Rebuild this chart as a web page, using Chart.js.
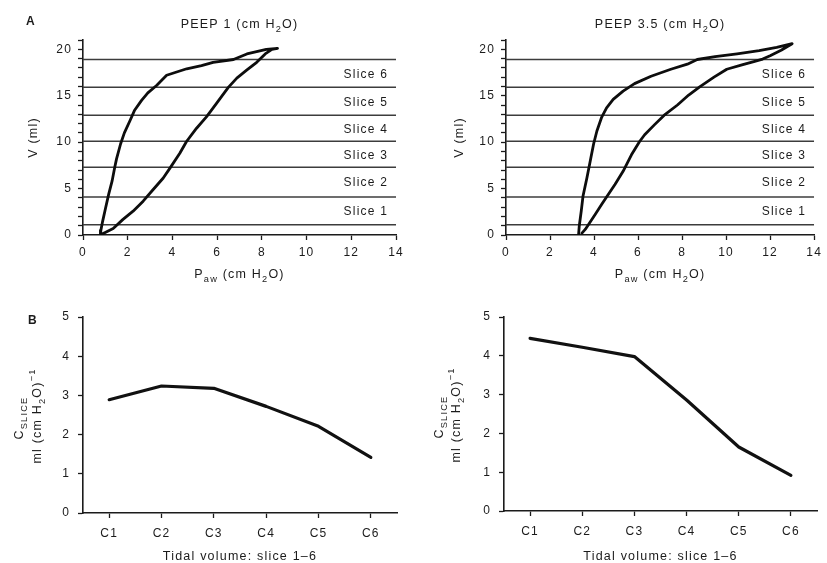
<!DOCTYPE html>
<html>
<head>
<meta charset="utf-8">
<script src="https://cdn.jsdelivr.net/npm/chart.js@4.4.1/dist/chart.umd.min.js"></script>
<style>
  html, body { margin: 0; padding: 0; background: #fff; }
  #wrap { position: relative; width: 827px; height: 563px; overflow: hidden; background: #fff; }
  .panel { position: absolute; }
  .panel canvas { display: block; }
</style>
</head>
<body>
<div id="wrap">
  <div class="panel" style="left:0;top:0;width:413px;height:290px"><canvas id="loopLow" width="413" height="290"></canvas></div>
  <div class="panel" style="left:413px;top:0;width:414px;height:290px"><canvas id="loopHigh" width="414" height="290"></canvas></div>
  <div class="panel" style="left:0;top:290px;width:413px;height:273px"><canvas id="compLow" width="413" height="273"></canvas></div>
  <div class="panel" style="left:413px;top:290px;width:414px;height:273px"><canvas id="compHigh" width="414" height="273"></canvas></div>
</div>
<script>
// ---- Pressure-volume loops: [Paw (cm H2O), V (ml)] ----
const inflationPeep1 = [
  [0.85, 0.1], [0.97, 0.25], [1.35, 0.7], [1.79, 1.68], [2.24, 2.57], [2.69, 3.64],
  [3.14, 4.9], [3.59, 6.14], [3.89, 7.2], [4.33, 8.8], [4.63, 10.07], [5.08, 11.5],
  [5.53, 12.75], [5.98, 14.2], [6.5, 15.9], [6.88, 16.9], [7.32, 17.75], [7.77, 18.6],
  [8.15, 19.5], [8.45, 20.0], [8.7, 20.1]
];
const deflationPeep1 = [
  [8.7, 20.1], [8.2, 20.0], [7.33, 19.5], [6.73, 18.9], [5.82, 18.6], [5.3, 18.25],
  [4.64, 17.9], [3.74, 17.2], [3.29, 16.1], [2.9, 15.3], [2.62, 14.5], [2.3, 13.4],
  [2.1, 12.3], [1.85, 11.0], [1.68, 9.8], [1.5, 8.2], [1.42, 7.3], [1.3, 5.8],
  [1.15, 4.4], [1.0, 2.8], [0.88, 1.5], [0.8, 0.5], [0.78, 0.1]
];
const inflationPeep35 = [
  [3.45, 0.2], [3.6, 0.6], [3.75, 1.14], [4.05, 2.2], [4.35, 3.3], [4.6, 4.2],
  [4.95, 5.43], [5.32, 6.86], [5.7, 8.64], [6.07, 10.07], [6.3, 10.8], [6.74, 11.86],
  [7.19, 12.9], [7.79, 14.0], [8.3, 15.07], [8.8, 15.96], [9.45, 17.0], [10.03, 17.85],
  [10.76, 18.35], [11.3, 18.7], [11.66, 18.95], [12.0, 19.3], [12.5, 19.9], [13.0, 20.6]
];
const deflationPeep35 = [
  [13.0, 20.6], [12.3, 20.2], [11.5, 19.85], [10.5, 19.5], [9.5, 19.2], [8.69, 18.9],
  [8.24, 18.4], [7.49, 17.85], [6.59, 17.1], [5.84, 16.3], [5.32, 15.5], [4.87, 14.6],
  [4.57, 13.7], [4.35, 12.7], [4.13, 11.2], [3.98, 9.8], [3.83, 8.0], [3.68, 6.2],
  [3.5, 4.2], [3.42, 2.6], [3.33, 1.0], [3.3, 0.1]
];

// Volume boundaries of the six lung slices (ml) and their names
const sliceBounds = [1.1, 4.1, 7.3, 10.1, 12.9, 15.9, 18.9];
const sliceNames = ['Slice 1', 'Slice 2', 'Slice 3', 'Slice 4', 'Slice 5', 'Slice 6'];

// ---- Slice compliance (ml (cm H2O)^-1) ----
const sliceCategories = ['C1', 'C2', 'C3', 'C4', 'C5', 'C6'];
const complianceLow = [2.89, 3.24, 3.18, 2.72, 2.21, 1.42];
const complianceHigh = [4.45, 4.22, 3.98, 2.86, 1.65, 0.92];

// Axis ranges
const pawRange = [0, 14];
const volRange = [0, 21];
const compRange = [0, 5];

const FONT = '"Liberation Sans", Arial, Helvetica, sans-serif';
const INK = '#1b1b1b';
const SPACING = '1.2px';

Chart.defaults.font.family = FONT;
Chart.defaults.font.size = 12;
Chart.defaults.color = INK;

// wider letter spacing for every piece of text on a canvas
const spacingPlugin = {
  id: 'spacing',
  beforeUpdate(chart) { chart.ctx.letterSpacing = SPACING; },
  beforeDraw(chart) { chart.ctx.letterSpacing = SPACING; }
};
Chart.register(spacingPlugin);

// text with sub/superscript runs, centred on (x, y)
function drawRich(ctx, segs, x, y, opt = {}) {
  const size = opt.size || 12.5;
  ctx.save();
  ctx.translate(x, y);
  if (opt.rotate) ctx.rotate(opt.rotate);
  ctx.fillStyle = INK;
  ctx.textBaseline = 'alphabetic';
  ctx.textAlign = 'left';
  ctx.letterSpacing = SPACING;
  const parts = segs.map(s => {
    const sz = s.s ? size * 0.74 : size;
    const font = (opt.bold ? 'bold ' : '') + sz + 'px ' + FONT;
    ctx.font = font;
    return {
      t: s.t, font,
      w: ctx.measureText(s.t).width,
      dy: s.s === 'sub' ? size * 0.32 : (s.s === 'sup' ? -size * 0.42 : 0)
    };
  });
  const total = parts.reduce((a, p) => a + p.w, 0);
  let cx = opt.align === 'left' ? 0 : -total / 2;
  const base = size * 0.36;
  parts.forEach(p => { ctx.font = p.font; ctx.fillText(p.t, cx, base + p.dy); cx += p.w; });
  ctx.restore();
}

const UP = -Math.PI / 2;
const pawTitle = [{ t: 'P' }, { t: 'aw', s: 'sub' }, { t: ' (cm H' }, { t: '2', s: 'sub' }, { t: 'O)' }];
const volTitle = [{ t: 'V (ml)' }];
const compTitleTop = [{ t: 'C' }, { t: 'SLICE', s: 'sub' }];
const compTitleBottom = [{ t: 'ml (cm H' }, { t: '2', s: 'sub' }, { t: 'O)' }, { t: '\u22121', s: 'sup' }];
const tidalTitle = [{ t: 'Tidal volume: slice 1\u20136' }];

function axisLook(tickLen, pad) {
  return {
    grid: { drawOnChartArea: false, drawTicks: true, tickLength: tickLen, tickColor: INK, tickWidth: 1.3 },
    border: { display: true, color: INK, width: 1.6 },
    ticks: { padding: pad, color: INK, font: { size: 12, family: FONT } }
  };
}

function loopChart(id, inflation, deflation, box, title, panelLetter) {
  const datasets = sliceBounds.map(b => ({
    data: [{ x: pawRange[0], y: b }, { x: pawRange[1], y: b }],
    borderColor: '#3c3c3c', borderWidth: 1.5, pointRadius: 0, showLine: true, order: 2
  }));
  datasets.push({
    data: inflation.concat(deflation).map(([x, y]) => ({ x, y })),
    borderColor: '#0d0d0d', borderWidth: 2.8, pointRadius: 0, showLine: true,
    tension: 0, borderJoinStyle: 'round', borderCapStyle: 'round', order: 1
  });
  const xLook = axisLook(5, 5);
  const yLook = axisLook(5, 6);
  return new Chart(document.getElementById(id), {
    type: 'scatter',
    data: { datasets },
    options: {
      responsive: false, animation: false, events: [],
      layout: { padding: { left: 0, right: box.pr, top: box.pt, bottom: 0 } },
      plugins: { legend: { display: false }, tooltip: { enabled: false } },
      scales: {
        x: Object.assign({}, xLook, {
          type: 'linear', min: pawRange[0], max: pawRange[1],
          afterFit(s) { s.height = box.xh; },
          ticks: Object.assign({}, xLook.ticks, { stepSize: 2 })
        }),
        y: Object.assign({}, yLook, {
          type: 'linear', min: volRange[0], max: volRange[1],
          afterFit(s) { s.width = box.yw; },
          ticks: Object.assign({}, yLook.ticks, {
            stepSize: 1, autoSkip: false,
            callback: v => (v % 5 === 0 ? String(v) : '')
          })
        })
      }
    },
    plugins: [{
      id: 'loopText',
      afterDraw(chart) {
        const { ctx, chartArea: a, scales } = chart;
        const cx = (a.left + a.right) / 2;
        drawRich(ctx, title, cx, 23, { size: 12.5 });
        drawRich(ctx, pawTitle, cx, 273, { size: 12.5 });
        drawRich(ctx, volTitle, box.ytx, (a.top + a.bottom) / 2, { rotate: UP, size: 12.5 });
        if (panelLetter) drawRich(ctx, [{ t: panelLetter }], 31, 21, { size: 12, bold: true });
        ctx.save();
        ctx.letterSpacing = SPACING;
        ctx.font = '12px ' + FONT;
        ctx.fillStyle = INK;
        ctx.textAlign = 'right';
        ctx.textBaseline = 'middle';
        sliceNames.forEach((name, i) => {
          const mid = (sliceBounds[i] + sliceBounds[i + 1]) / 2;
          ctx.fillText(name, a.right - 8, scales.y.getPixelForValue(mid) + 1);
        });
        ctx.restore();
      }
    }]
  });
}

function complianceChart(id, values, box, panelLetter) {
  const xLook = axisLook(5, 8);
  const yLook = axisLook(5, 8);
  return new Chart(document.getElementById(id), {
    type: 'line',
    data: {
      labels: sliceCategories,
      datasets: [{
        data: values, borderColor: '#111', borderWidth: 3.2, pointRadius: 0,
        tension: 0, borderJoinStyle: 'round', borderCapStyle: 'round', fill: false
      }]
    },
    options: {
      responsive: false, animation: false, events: [],
      layout: { padding: { left: 0, right: box.pr, top: box.pt, bottom: 0 } },
      plugins: { legend: { display: false }, tooltip: { enabled: false } },
      scales: {
        x: Object.assign({}, xLook, {
          type: 'category', offset: true,
          afterFit(s) { s.height = box.xh; },
          grid: Object.assign({}, xLook.grid, { offset: false })
        }),
        y: Object.assign({}, yLook, {
          type: 'linear', min: compRange[0], max: compRange[1],
          afterFit(s) { s.width = box.yw; },
          ticks: Object.assign({}, yLook.ticks, { stepSize: 1 })
        })
      }
    },
    plugins: [{
      id: 'compText',
      afterDraw(chart) {
        const { ctx, chartArea: a } = chart;
        const cx = (a.left + a.right) / 2;
        const cy = (a.top + a.bottom) / 2 + 3;
        drawRich(ctx, tidalTitle, cx, 265, { size: 12.5 });
        drawRich(ctx, compTitleTop, box.ytx1, cy, { rotate: UP, size: 12.5 });
        drawRich(ctx, compTitleBottom, box.ytx2, cy - 2, { rotate: UP, size: 12.5 });
        if (panelLetter) drawRich(ctx, [{ t: panelLetter }], 33, 30, { size: 12, bold: true });
      }
    }]
  });
}

loopChart('loopLow', inflationPeep1, deflationPeep1,
  { yw: 83, pr: 17, pt: 40, xh: 55, ytx: 32 },
  [{ t: 'PEEP 1 (cm H' }, { t: '2', s: 'sub' }, { t: 'O)' }], 'A');
loopChart('loopHigh', inflationPeep35, deflationPeep35,
  { yw: 93, pr: 8, pt: 40, xh: 55, ytx: 45 },
  [{ t: 'PEEP 3.5 (cm H' }, { t: '2', s: 'sub' }, { t: 'O)' }], null);
complianceChart('compLow', complianceLow,
  { yw: 83, pr: 16, pt: 27, xh: 50, ytx1: 18, ytx2: 36 }, 'B');
complianceChart('compHigh', complianceHigh,
  { yw: 91, pr: 10, pt: 27, xh: 52, ytx1: 25, ytx2: 42 }, null);
</script>
</body>
</html>
